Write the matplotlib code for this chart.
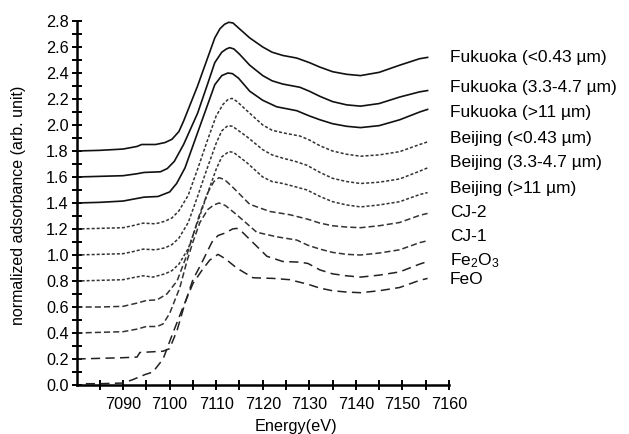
import matplotlib
matplotlib.use("Agg")
import matplotlib.pyplot as plt
from matplotlib.ticker import MultipleLocator, FixedLocator

plt.rcParams['font.family'] = ['Liberation Sans', 'DejaVu Sans']
plt.rcParams['mathtext.fontset'] = 'custom'
plt.rcParams['mathtext.rm'] = 'Liberation Sans'
plt.rcParams['mathtext.it'] = 'Liberation Sans'

# ---------------- data ----------------
f1_e = [7080, 7085, 7090, 7093, 7094, 7097, 7099, 7100.5, 7102, 7103, 7104, 7106, 7108, 7109.7,
        7110.8, 7111.8, 7112.7, 7113.6, 7115, 7117.2, 7120, 7122, 7124.3, 7127.3, 7130, 7132.3,
        7135, 7138, 7141, 7145, 7149.4, 7153.7, 7155.4]
f1_y = [1.80, 1.805, 1.815, 1.835, 1.85, 1.85, 1.865, 1.89, 1.95, 2.03, 2.12, 2.30, 2.50, 2.67,
        2.74, 2.775, 2.79, 2.785, 2.74, 2.67, 2.60, 2.56, 2.535, 2.515, 2.48, 2.445,
        2.41, 2.39, 2.38, 2.405, 2.46, 2.51, 2.52]

f2_e = [7080, 7085, 7090, 7093, 7094.5, 7098, 7099.5, 7101, 7103, 7106, 7108.2, 7109.7, 7111.2,
        7112.2, 7112.9, 7113.8, 7115, 7117.2, 7120, 7122, 7124.3, 7128, 7130, 7132.3, 7135, 7138,
        7141, 7145, 7149.4, 7153.7, 7155.4]
f2_y = [1.60, 1.605, 1.61, 1.625, 1.635, 1.64, 1.665, 1.72, 1.85, 2.09, 2.32, 2.48, 2.56,
        2.585, 2.595, 2.585, 2.545, 2.46, 2.38, 2.34, 2.315, 2.29, 2.26, 2.22, 2.18, 2.155,
        2.145, 2.165, 2.215, 2.255, 2.265]

f3_e = [7080, 7085, 7090, 7093, 7094.5, 7097.5, 7100, 7101.5, 7103.3, 7105.9, 7108, 7109.7, 7111.2,
        7112.5, 7113.5, 7114.8, 7117.2, 7120, 7123, 7127.3, 7130, 7132.3, 7135, 7138, 7141, 7145,
        7149.4, 7153.7, 7155.4]
f3_y = [1.40, 1.405, 1.415, 1.435, 1.445, 1.45, 1.485, 1.55, 1.67, 1.93, 2.14, 2.31, 2.38,
        2.40, 2.395, 2.36, 2.26, 2.19, 2.14, 2.11, 2.07, 2.04, 2.01, 1.99, 1.98, 1.995,
        2.04, 2.10, 2.12]

b1_e = [7080, 7085, 7090, 7092, 7094.3, 7097, 7099, 7100.5, 7102, 7104, 7106, 7108, 7110, 7111.5,
        7112.5, 7113.4, 7114.5, 7116.6, 7120, 7122, 7124.3, 7128, 7130, 7132.3, 7135, 7138, 7141,
        7145, 7149.4, 7153.7, 7155.4]
b1_y = [1.20, 1.205, 1.21, 1.225, 1.245, 1.24, 1.26, 1.285, 1.34, 1.46, 1.66, 1.87, 2.07, 2.16,
        2.195, 2.205, 2.18, 2.11, 2.00, 1.96, 1.94, 1.915, 1.885, 1.84, 1.80, 1.775, 1.76,
        1.77, 1.795, 1.85, 1.87]

b2_e = [7080, 7085, 7090, 7092, 7094.3, 7097, 7099, 7100.5, 7102, 7104, 7106, 7108, 7110, 7111.2,
        7112.5, 7113.5, 7116.6, 7120, 7122, 7124.3, 7127, 7129.5, 7132.3, 7135, 7138, 7141, 7145,
        7149.4, 7153.7, 7155.4]
b2_y = [1.00, 1.005, 1.01, 1.025, 1.045, 1.04, 1.055, 1.08, 1.13, 1.25, 1.45, 1.66, 1.86, 1.955,
        1.995, 1.99, 1.91, 1.81, 1.77, 1.745, 1.72, 1.69, 1.635, 1.59, 1.565, 1.55, 1.56,
        1.585, 1.645, 1.67]

b3_e = [7080, 7085, 7090, 7092, 7094.3, 7096.4, 7099, 7100.5, 7102, 7104, 7106, 7108, 7110, 7111.2,
        7112.7, 7113.7, 7116.6, 7120, 7122, 7124.3, 7127, 7129.5, 7132.3, 7135, 7138, 7141, 7145,
        7149.4, 7153.7, 7155.4]
b3_y = [0.80, 0.805, 0.81, 0.825, 0.84, 0.83, 0.855, 0.88, 0.93, 1.05, 1.25, 1.46, 1.66, 1.755,
        1.795, 1.79, 1.71, 1.60, 1.565, 1.55, 1.525, 1.50, 1.45, 1.41, 1.385, 1.37, 1.385,
        1.41, 1.465, 1.48]

cj2_e = [7080, 7085, 7090, 7093, 7095, 7097.3, 7099.4, 7101.6, 7103.7, 7105, 7106.5, 7108.2, 7109.5,
         7110.6, 7111.8, 7113.6, 7117.2, 7121.5, 7125.8, 7129.7, 7132.3, 7135, 7138, 7141, 7145,
         7149.4, 7153.7, 7155.4]
cj2_y = [0.60, 0.60, 0.605, 0.63, 0.65, 0.655, 0.70, 0.80, 1.00, 1.15, 1.32, 1.48, 1.565,
         1.595, 1.58, 1.52, 1.39, 1.335, 1.31, 1.275, 1.245, 1.225, 1.215, 1.21, 1.225,
         1.25, 1.305, 1.32]

cj1_e = [7080, 7085, 7090, 7093, 7095, 7097.3, 7098.6, 7100, 7102.2, 7103.7, 7105, 7106.5, 7108.2,
         7109.5, 7110.6, 7112, 7114.4, 7118.7, 7123, 7127.3, 7129.7, 7132.3, 7135, 7138, 7141, 7145,
         7149.4, 7153.7, 7155.4]
cj1_y = [0.40, 0.405, 0.41, 0.43, 0.45, 0.45, 0.47, 0.55, 0.75, 0.95, 1.10, 1.25, 1.35,
         1.385, 1.40, 1.38, 1.31, 1.175, 1.14, 1.115, 1.075, 1.045, 1.02, 1.005, 1.00, 1.015,
         1.04, 1.095, 1.11]

fe2o3_e = [7080, 7085, 7090, 7093, 7093.6, 7098.6, 7100, 7101.6, 7103.3, 7105, 7106.9, 7109.1, 7110.4,
           7112, 7113.5, 7114.4, 7115.5, 7117.2, 7120.9, 7124.3, 7128, 7129.7, 7132.3, 7135, 7138,
           7141, 7145, 7149.4, 7153.7, 7155.4]
fe2o3_y = [0.20, 0.205, 0.21, 0.215, 0.25, 0.26, 0.28, 0.42, 0.63, 0.81, 0.94, 1.10, 1.15,
           1.17, 1.20, 1.205, 1.18, 1.12, 0.99, 0.95, 0.945, 0.935, 0.885, 0.855, 0.84,
           0.83, 0.845, 0.87, 0.93, 0.95]

feo_e = [7082, 7085, 7090, 7092, 7094.7, 7096.4, 7098.6, 7100.7, 7102.9, 7105, 7106.9, 7108.6, 7110.4,
         7112, 7114.4, 7117.9, 7122.2, 7125.8, 7129.7, 7132.3, 7135, 7138, 7141, 7145, 7149.4,
         7153.7, 7155.4]
feo_y = [0.01, 0.01, 0.015, 0.04, 0.08, 0.10, 0.20, 0.40, 0.60, 0.78, 0.88, 0.96, 1.005,
         0.97, 0.90, 0.825, 0.82, 0.81, 0.775, 0.745, 0.725, 0.715, 0.71, 0.725, 0.75,
         0.805, 0.82]

labels = ['Fukuoka (<0.43 µm)', 'Fukuoka (3.3-4.7 µm)', 'Fukuoka (>11 µm)',
          'Beijing (<0.43 µm)', 'Beijing (3.3-4.7 µm)', 'Beijing (>11 µm)',
          'CJ-2', 'CJ-1', 'Fe$_2$O$_3$', 'FeO']
label_y = [2.52, 2.285, 2.10, 1.90, 1.708, 1.515, 1.33, 1.14, 0.96, 0.815]

x_ticklabels = [7090, 7100, 7110, 7120, 7130, 7140, 7150, 7160]
y_ticklabels = [0.0, 0.2, 0.4, 0.6, 0.8, 1.0, 1.2, 1.4, 1.6, 1.8, 2.0, 2.2, 2.4, 2.6, 2.8]

series = [(f1_e, f1_y), (f2_e, f2_y), (f3_e, f3_y), (b1_e, b1_y), (b2_e, b2_y), (b3_e, b3_y),
          (cj2_e, cj2_y), (cj1_e, cj1_y), (fe2o3_e, fe2o3_y), (feo_e, feo_y)]

# ---------------- styles ----------------
styles = [dict(ls='-', lw=1.2, color='#111111')] * 3 + \
         [dict(ls=(0, (2.0, 1.3)), lw=1.1, color='#333333')] * 3 + \
         [dict(ls=(0, (4.0, 2.0)), lw=1.1, color='#333333')] * 2 + \
         [dict(ls=(0, (6.0, 3.5)), lw=1.1, color='#222222')] * 2

fig = plt.figure(figsize=(6.29, 4.34), dpi=100)
ax = fig.add_axes([76.5 / 629, 1 - 385 / 434, (449 - 76.5) / 629, (385 - 21) / 434])

for (e, y), st in zip(series, styles):
    ax.plot(e, y, solid_joinstyle='round', dash_joinstyle='round', **st)

for lab, ly in zip(labels, label_y):
    ax.text(7160.2, ly, lab, ha='left', va='center', fontsize=12.5, clip_on=False)

ax.set_xlim(7080, 7160)
ax.set_ylim(0, 2.8)
ax.xaxis.set_major_locator(FixedLocator(x_ticklabels))
ax.set_xticklabels([str(v) for v in x_ticklabels])
ax.xaxis.set_minor_locator(FixedLocator([7085 + 10 * i for i in range(8)]))
ax.yaxis.set_major_locator(FixedLocator(y_ticklabels))
ax.set_yticklabels([f'{v:.1f}' for v in y_ticklabels])
ax.yaxis.set_minor_locator(MultipleLocator(0.1))

for s in ['top', 'right']:
    ax.spines[s].set_visible(False)
for s in ['left', 'bottom']:
    ax.spines[s].set_linewidth(1.8)

ax.tick_params(which='both', direction='inout', length=7, width=1.4, labelsize=11.7, color='black')
ax.tick_params(axis='x', which='major', pad=5)
ax.tick_params(axis='y', which='major', pad=2)

fig.text(19 / 629, 1 - 205 / 434, 'normalized adsorbance (arb. unit)', rotation=90,
         ha='center', va='center', fontsize=11.5)
fig.text(296 / 629, 1 - 431 / 434, 'Energy(eV)', ha='center', va='baseline', fontsize=11.7)

fig.savefig('out.png', dpi=100)
